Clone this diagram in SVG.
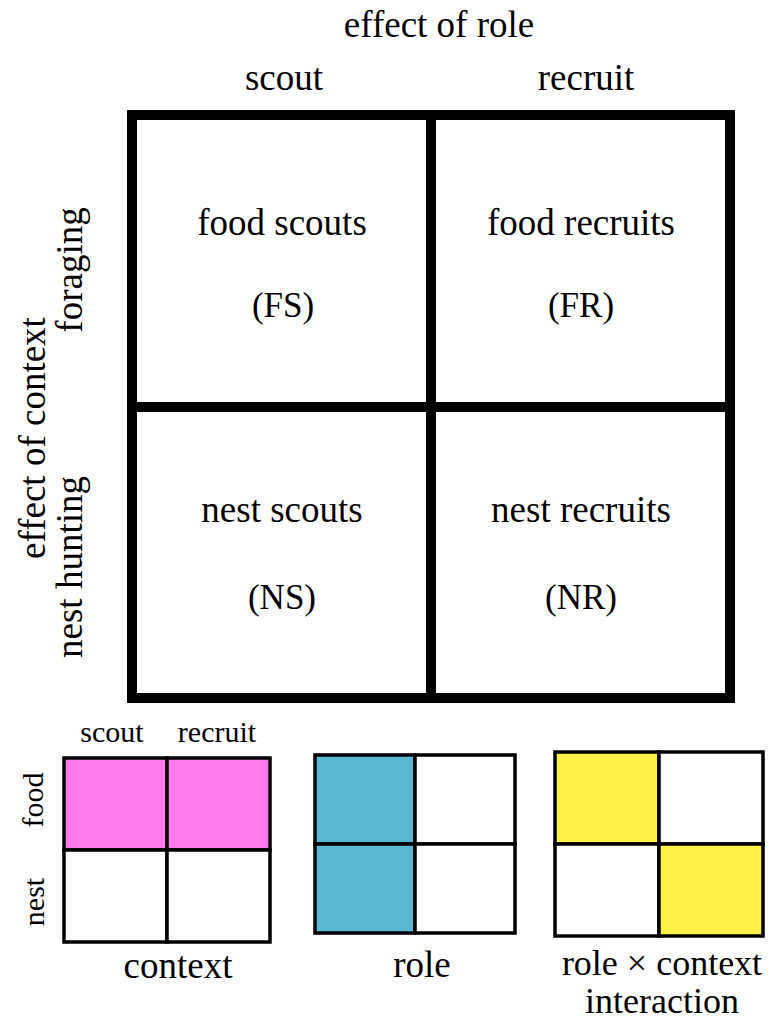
<svg xmlns="http://www.w3.org/2000/svg" width="770" height="1021" viewBox="0 0 770 1021">
<style>
text{font-family:"Liberation Serif","Times New Roman",serif;fill:#000;text-anchor:middle}
.big{font-size:37px}
.lg{font-size:36px}
.ab{font-size:35px}
.sm{font-size:30px}
.grid{fill:none;stroke:#000;stroke-width:10}
.cell{stroke:#000;stroke-width:3.5}
</style>
<rect width="770" height="1021" fill="#fff"/>
<g id="labels">
<text class="big" x="439" y="37">effect of role</text>
<text class="big" x="284" y="90">scout</text>
<text class="big" x="586" y="90">recruit</text>
<text class="big" transform="translate(45,438) rotate(-90)">effect of context</text>
<text class="big" transform="translate(82,270) rotate(-90)">foraging</text>
<text class="big" transform="translate(82,567) rotate(-90)">nest hunting</text>
</g>
<g id="main-grid">
<rect class="grid" x="132" y="115" width="598" height="583"/>
<line class="grid" x1="431" y1="115" x2="431" y2="698"/>
<line class="grid" x1="132" y1="407" x2="730" y2="407"/>
</g>
<g id="FS"><text class="big" x="282" y="235">food scouts</text><text class="ab" x="283" y="317">(FS)</text></g>
<g id="FR"><text class="big" x="581" y="235">food recruits</text><text class="ab" x="581" y="317">(FR)</text></g>
<g id="NS"><text class="big" x="282" y="522">nest scouts</text><text class="ab" x="282" y="609">(NS)</text></g>
<g id="NR"><text class="big" x="581" y="522">nest recruits</text><text class="ab" x="581" y="609">(NR)</text></g>
<g id="context-grid">
<rect class="cell" x="64" y="758" width="103" height="92" fill="#ff7bec"/>
<rect class="cell" x="167" y="758" width="103" height="92" fill="#ff7bec"/>
<rect class="cell" x="64" y="850" width="103" height="92" fill="#fff"/>
<rect class="cell" x="167" y="850" width="103" height="92" fill="#fff"/>
<text class="sm" x="112" y="742">scout</text>
<text class="sm" x="217" y="742">recruit</text>
<text class="sm" transform="translate(43,800) rotate(-90)">food</text>
<text class="sm" transform="translate(44,902) rotate(-90)">nest</text>
<text class="big" x="178" y="978">context</text>
</g>
<g id="role-grid">
<rect class="cell" x="315" y="755" width="100" height="89" fill="#5bb8d0"/>
<rect class="cell" x="415" y="755" width="100" height="89" fill="#fff"/>
<rect class="cell" x="315" y="844" width="100" height="89" fill="#5bb8d0"/>
<rect class="cell" x="415" y="844" width="100" height="89" fill="#fff"/>
<text class="big" x="422" y="977">role</text>
</g>
<g id="interaction-grid">
<rect class="cell" x="555" y="752" width="104" height="92" fill="#fff145"/>
<rect class="cell" x="659" y="752" width="104" height="92" fill="#fff"/>
<rect class="cell" x="555" y="844" width="104" height="92" fill="#fff"/>
<rect class="cell" x="659" y="844" width="104" height="92" fill="#fff145"/>
<text class="lg" x="662" y="975">role × context</text>
<text class="lg" x="662" y="1013">interaction</text>
</g>
<g id="connectors"/>
</svg>
